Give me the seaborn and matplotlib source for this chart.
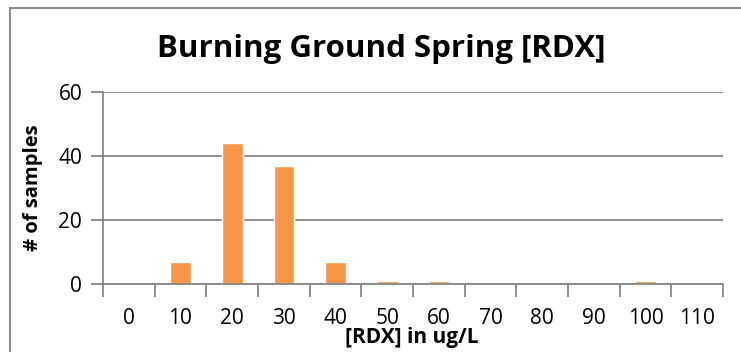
import matplotlib
matplotlib.use("Agg")
import matplotlib.pyplot as plt
import matplotlib.patches as patches
import pandas as pd
import seaborn as sns
from matplotlib.ticker import FixedLocator

bins = ["0", "10", "20", "30", "40", "50", "60", "70", "80", "90", "100", "110"]
samples = [0, 7, 44, 37, 7, 1, 1, 0, 0, 0, 1, 0]

BAR = "#F79646"
GRID = "#868686"

if __name__ == "__main__":
    sns.set_style("white")
    plt.rcParams["font.family"] = ["Open Sans", "DejaVu Sans"]
    plt.rcParams["text.color"] = "black"
    plt.rcParams["xtick.color"] = "black"
    plt.rcParams["ytick.color"] = "black"

    data = pd.DataFrame({"bin": bins, "samples": samples})

    fig = plt.figure(figsize=(7.41, 3.52), dpi=100)
    W, H = 741, 352
    ax = fig.add_axes([103 / W, 1 - 284 / H, (723 - 103) / W, (284 - 92) / H])

    sns.barplot(data=data, x="bin", y="samples", order=bins, color=BAR,
                saturation=1, width=0.4, ax=ax)

    ax.set_xlim(-0.5, len(bins) - 0.5)
    ax.set_ylim(0, 60)
    ax.set_yticks([0, 20, 40, 60])
    ax.yaxis.grid(True, color=GRID, linewidth=1.3)
    ax.set_axisbelow(True)

    for side in ["top", "right"]:
        ax.spines[side].set_visible(False)
    for side in ["left", "bottom"]:
        ax.spines[side].set_color(GRID)
        ax.spines[side].set_linewidth(1.3)

    ax.tick_params(axis="y", which="major", length=9, width=1.3, color=GRID,
                   labelcolor="black", direction="out", labelsize=15, pad=6,
                   left=True)
    ax.tick_params(axis="x", which="major", length=0, labelsize=15,
                   labelcolor="black", pad=17)
    ax.xaxis.set_minor_locator(FixedLocator([i - 0.5 for i in range(len(bins) + 1)]))
    ax.tick_params(axis="x", which="minor", length=9, width=1.3, color=GRID,
                   direction="out", bottom=True)

    ax.set_xlabel("")
    ax.set_ylabel("")

    fig.text(381 / W, 1 - 49 / H, "Burning Ground Spring [RDX]", ha="center",
             va="center", fontsize=22.5, fontweight="bold")
    fig.text(33 / W, 1 - 188 / H, "# of samples", ha="center", va="center",
             rotation=90, fontsize=14.5, fontweight="bold")
    fig.text(412 / W, 1 - 338 / H, "[RDX] in ug/L", ha="center", va="center",
             fontsize=15, fontweight="bold")

    fig.patches.append(patches.Rectangle((10 / W, -0.1), 1.2, 1 - 7.5 / H + 0.1,
                                         transform=fig.transFigure, fill=False,
                                         edgecolor="#8C8C8C", linewidth=1.5))

    fig.savefig("out.png", dpi=100)
